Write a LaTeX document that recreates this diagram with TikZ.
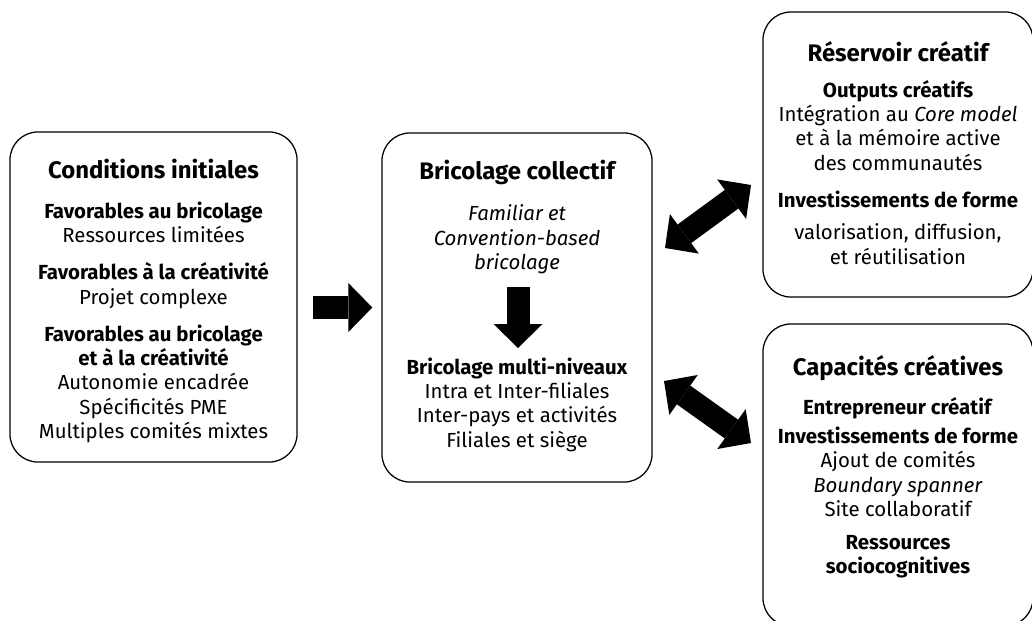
\documentclass[tikz,border=0pt]{standalone}
\usepackage{fontspec}
\setmainfont{Fira Sans}
\usetikzlibrary{arrows.meta}
\newcommand{\titre}[1]{{\fontsize{17}{19}\selectfont\bfseries #1}}
\tikzset{
  bloc/.style={draw, line width=0.9pt, rounded corners=0.7cm, minimum width=6.75cm},
  texte/.style={align=center, inner sep=0pt, font=\fontsize{14.5}{17.3}\selectfont},
  fleche/.style={line width=0.575cm, -{Triangle[width=1.225cm, length=0.6cm, line width=0pt]}},
  doublefleche/.style={line width=0.575cm, {Triangle[width=1.225cm, length=0.6cm, line width=0pt]}-{Triangle[width=1.225cm, length=0.6cm, line width=0pt]}}
}
\begin{document}
\begin{tikzpicture}[x=0.025cm,y=-0.025cm]
\useasboundingbox (0,0) rectangle (1032,620);
\clip (0,0) rectangle (1032,620);
\node at (153.5,297) [bloc, minimum width=7.175cm, minimum height=8.25cm](cond){};
\node at (517,307.5) [bloc, minimum height=8.725cm](brico){};
\node at (898,154.5) [bloc, minimum height=7.125cm](reserv){};
\node at (898,475) [bloc, minimum height=7.55cm](capa){};
\node at (153.5,301) [texte](condtxt){\titre{Conditions initiales}\\[11pt]
  \textbf{Favorables au bricolage}\\ Ressources limitées\\[9pt]
  \textbf{Favorables à la créativité}\\ Projet complexe\\[9pt]
  \textbf{Favorables au bricolage}\\ \textbf{et à la créativité}\\
  Autonomie encadrée\\ Spécificités PME\\ Multiples comités mixtes};
\node at (517,217) [texte](famtxt){\titre{Bricolage collectif}\\[12pt]
  \textit{Familiar et}\\ \textit{Convention-based}\\ \textit{bricolage}};
\node at (517,404.5) [texte](multitxt){\textbf{Bricolage multi-niveaux}\\
  Intra et Inter-filiales\\ Inter-pays et activités\\ Filiales et siège};
\node at (898,153) [texte](reservtxt){\titre{Réservoir créatif}\\[8pt]
  \textbf{Outputs créatifs}\\ Intégration au \textit{Core model}\\
  et à la mémoire active\\ des communautés\\[9pt]
  \textbf{Investissements de forme}\\[6pt] valorisation, diffusion,\\ et réutilisation};
\node at (898,466.5) [texte](capatxt){\titre{Capacités créatives}\\[11pt]
  \textbf{Entrepreneur créatif}\\[3pt]
  \textbf{Investissements de forme}\\ Ajout de comités\\ \textit{Boundary spanner}\\
  Site collaboratif\\[6pt] \textbf{Ressources}\\ \textbf{sociocognitives}};
\coordinate (descH) at (518,287);
\coordinate (descB) at (518,348);
\coordinate (resG) at (665,248);
\coordinate (resD) at (751,185);
\coordinate (capG) at (664,381);
\coordinate (capD) at (751,443);
\draw[fleche, shorten <=0.375cm, shorten >=0.225cm] (cond.east |- brico.west) -- (brico.west);
\draw[fleche] (descH) -- (descB);
\draw[doublefleche] (resG) -- (resD);
\draw[doublefleche] (capG) -- (capD);
\end{tikzpicture}
\end{document}
